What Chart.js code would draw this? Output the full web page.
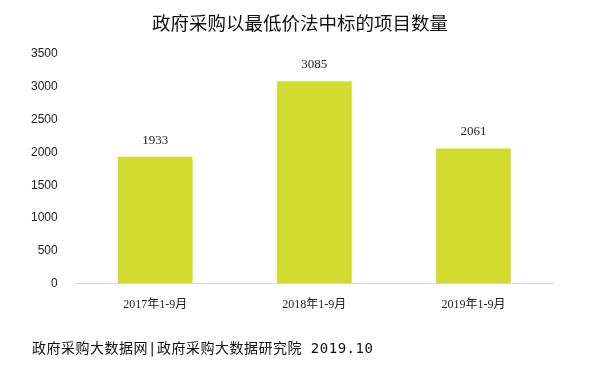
<!DOCTYPE html>
<html>
<head>
<meta charset="utf-8">
<script src="https://cdn.jsdelivr.net/npm/chart.js@4"></script>
<style>
  body { margin: 0; background: #fff; }
  #wrap { position: relative; width: 615px; height: 377px; }
  #title {
    position: absolute; left: 0; width: 600px; top: 9px; text-align: center;
    font: 18.5px "Noto Sans CJK SC", sans-serif; color: #111;
  }
  #footer {
    position: absolute; left: 32px; top: 337px;
    font: 14px "DejaVu Sans Mono", "Noto Sans CJK SC", monospace; color: #111;
    letter-spacing: 0.5px;
  }
</style>
</head>
<body>
<div id="wrap">
  <canvas id="c" width="615" height="377"></canvas>
  <div id="title"></div>
  <div id="footer">政府采购大数据网|政府采购大数据研究院 2019.10</div>
</div>
<script>
const categories = ['2017年1-9月', '2018年1-9月', '2019年1-9月']
const projectCounts = [1933, 3085, 2061]
const chartTitle = '政府采购以最低价法中标的项目数量'

document.getElementById('title').textContent = chartTitle

const valueLabels = {
  id: 'valueLabels',
  afterDatasetsDraw(chart) {
    const ctx = chart.ctx
    const meta = chart.getDatasetMeta(0)
    ctx.save()
    ctx.font = '13px "Liberation Serif", serif'
    ctx.fillStyle = '#222'
    ctx.textAlign = 'center'
    ctx.textBaseline = 'bottom'
    meta.data.forEach((bar, i) => {
      ctx.fillText(projectCounts[i], bar.x, bar.y - 10)
    })
    ctx.restore()
  }
}

new Chart(document.getElementById('c'), {
  type: 'bar',
  data: {
    labels: categories,
    datasets: [{
      data: projectCounts,
      backgroundColor: '#d1dc2f',
      categoryPercentage: 1,
      barPercentage: 0.47,
    }]
  },
  options: {
    responsive: false,
    animation: false,
    layout: { padding: { left: 21, right: 62, top: 54, bottom: 59 } },
    plugins: {
      legend: { display: false },
      tooltip: { enabled: false },
      title: { display: false }
    },
    scales: {
      x: {
        grid: { display: false },
        border: { color: '#d9d9d9' },
        ticks: {
          color: '#222',
          font: { size: 12, family: '"Liberation Serif", "Noto Sans CJK SC", serif' },
          padding: 6
        }
      },
      y: {
        min: 0,
        max: 3500,
        grid: { display: false },
        border: { display: false },
        ticks: {
          stepSize: 500,
          color: '#222',
          font: { size: 12, family: '"Liberation Sans", sans-serif' },
          padding: 10,
          callback: v => String(v)
        }
      }
    }
  },
  plugins: [valueLabels]
})
</script>
</body>
</html>
